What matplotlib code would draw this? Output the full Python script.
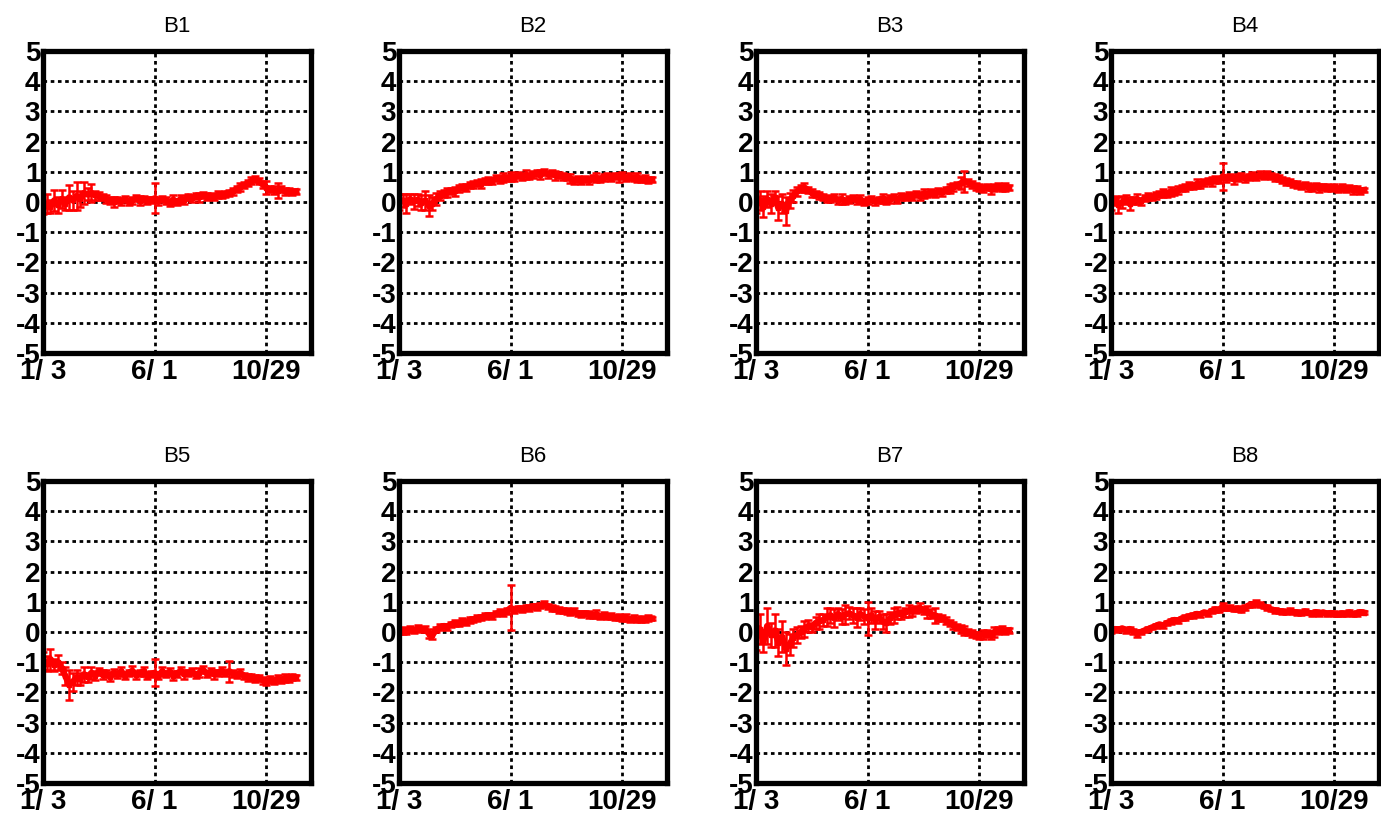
import matplotlib
matplotlib.use("Agg")
import matplotlib.pyplot as plt

plt.rcParams['font.family'] = ['Liberation Sans', 'DejaVu Sans']

# Sample days counted from 1/3 (every 5 days)
days = [0, 5, 10, 15, 20, 25, 30, 35, 40, 45,
        50, 55, 60, 65, 70, 75, 80, 85, 90, 95,
        100, 105, 110, 115, 120, 125, 130, 135, 140, 145,
        150, 155, 160, 165, 170, 175, 180, 185, 190, 195,
        200, 205, 210, 215, 220, 225, 230, 235, 240, 245,
        250, 255, 260, 265, 270, 275, 280, 285, 290, 295,
        300, 305, 310, 315, 320, 325, 330, 335, 340]

tick_days = [0, 150, 300]
tick_labels = ['1/ 3', '6/ 1', '10/29']
y_ticks = [-5, -4, -3, -2, -1, 0, 1, 2, 3, 4, 5]

titles = ['B1', 'B2', 'B3', 'B4', 'B5', 'B6', 'B7', 'B8']

b1 = [-0.25, -0.05, -0.15, 0.05, -0.10, 0.10, -0.05, 0.15, 0.05, 0.20,
      0.10, 0.30, 0.25, 0.30, 0.22, 0.20, 0.15, 0.10, 0.05, 0.00,
      0.08, 0.02, 0.10, 0.00, 0.05, 0.12, 0.04, 0.10, 0.05, 0.08,
      0.12, 0.03, 0.10, 0.05, -0.02, 0.08, 0.00, 0.10, 0.05, 0.18,
      0.12, 0.20, 0.15, 0.22, 0.18, 0.20, 0.15, 0.25, 0.22, 0.28,
      0.30, 0.35, 0.42, 0.50, 0.55, 0.62, 0.70, 0.75, 0.68, 0.58,
      0.48, 0.42, 0.40, 0.38, 0.42, 0.35, 0.38, 0.32, 0.35]
b1_err = [0.15, 0.30, 0.20, 0.35, 0.25, 0.30, 0.20, 0.40, 0.30, 0.45,
          0.25, 0.35, 0.20, 0.30, 0.15, 0.12, 0.10, 0.12, 0.10, 0.15,
          0.10, 0.12, 0.10, 0.10, 0.12, 0.10, 0.15, 0.10, 0.12, 0.10,
          0.50, 0.12, 0.10, 0.12, 0.10, 0.15, 0.10, 0.12, 0.10, 0.10,
          0.12, 0.10, 0.15, 0.10, 0.12, 0.10, 0.10, 0.12, 0.10, 0.10,
          0.10, 0.12, 0.10, 0.12, 0.10, 0.10, 0.12, 0.10, 0.10, 0.12,
          0.20, 0.10, 0.12, 0.25, 0.10, 0.12, 0.10, 0.10, 0.08]

b2 = [0.00, 0.05, -0.05, 0.10, 0.02, 0.08, -0.02, 0.05, -0.12, -0.05,
      0.10, 0.20, 0.28, 0.32, 0.38, 0.35, 0.45, 0.50, 0.48, 0.55,
      0.58, 0.62, 0.60, 0.68, 0.72, 0.70, 0.78, 0.75, 0.82, 0.78,
      0.85, 0.80, 0.88, 0.84, 0.90, 0.86, 0.92, 0.95, 0.90, 0.98,
      0.92, 0.95, 0.88, 0.90, 0.85, 0.82, 0.78, 0.72, 0.75, 0.70,
      0.75, 0.72, 0.78, 0.80, 0.76, 0.82, 0.85, 0.80, 0.86, 0.82,
      0.88, 0.80, 0.84, 0.78, 0.82, 0.75, 0.78, 0.72, 0.74]
b2_err = [0.25, 0.20, 0.30, 0.15, 0.25, 0.20, 0.25, 0.30, 0.35, 0.20,
          0.20, 0.15, 0.12, 0.15, 0.10, 0.15, 0.12, 0.10, 0.12, 0.10,
          0.12, 0.10, 0.15, 0.10, 0.12, 0.10, 0.10, 0.12, 0.15, 0.10,
          0.15, 0.12, 0.10, 0.12, 0.15, 0.10, 0.12, 0.10, 0.15, 0.10,
          0.12, 0.10, 0.15, 0.10, 0.12, 0.10, 0.15, 0.12, 0.10, 0.12,
          0.10, 0.12, 0.10, 0.15, 0.10, 0.12, 0.10, 0.12, 0.10, 0.15,
          0.12, 0.10, 0.12, 0.10, 0.15, 0.10, 0.12, 0.10, 0.08]

b3 = [-0.10, 0.05, -0.15, 0.10, -0.05, 0.15, -0.20, -0.05, -0.30, 0.05,
      0.20, 0.35, 0.45, 0.48, 0.40, 0.30, 0.25, 0.22, 0.18, 0.12,
      0.10, 0.15, 0.05, 0.10, 0.02, 0.08, 0.12, 0.05, 0.10, 0.00,
      0.05, 0.10, 0.02, 0.08, 0.12, 0.05, 0.10, 0.15, 0.08, 0.18,
      0.15, 0.22, 0.18, 0.25, 0.20, 0.28, 0.25, 0.32, 0.28, 0.35,
      0.32, 0.40, 0.45, 0.50, 0.55, 0.62, 0.68, 0.65, 0.58, 0.52,
      0.48, 0.45, 0.50, 0.42, 0.48, 0.52, 0.46, 0.50, 0.48]
b3_err = [0.25, 0.30, 0.35, 0.25, 0.30, 0.20, 0.40, 0.30, 0.45, 0.25,
          0.20, 0.15, 0.12, 0.15, 0.10, 0.12, 0.10, 0.12, 0.10, 0.12,
          0.10, 0.12, 0.10, 0.15, 0.10, 0.12, 0.10, 0.10, 0.12, 0.10,
          0.12, 0.10, 0.12, 0.10, 0.15, 0.10, 0.12, 0.10, 0.10, 0.12,
          0.10, 0.12, 0.10, 0.10, 0.12, 0.15, 0.10, 0.12, 0.10, 0.10,
          0.12, 0.10, 0.15, 0.12, 0.10, 0.20, 0.35, 0.12, 0.10, 0.12,
          0.10, 0.12, 0.10, 0.15, 0.10, 0.12, 0.10, 0.12, 0.08]

b4 = [-0.05, 0.05, -0.10, 0.00, 0.08, -0.05, 0.05, 0.10, 0.02, 0.12,
      0.18, 0.15, 0.22, 0.25, 0.30, 0.28, 0.35, 0.32, 0.40, 0.45,
      0.48, 0.55, 0.52, 0.60, 0.58, 0.65, 0.70, 0.68, 0.75, 0.72,
      0.85, 0.78, 0.82, 0.75, 0.80, 0.85, 0.78, 0.84, 0.88, 0.82,
      0.90, 0.85, 0.92, 0.86, 0.82, 0.78, 0.72, 0.68, 0.65, 0.60,
      0.58, 0.52, 0.55, 0.50, 0.48, 0.52, 0.46, 0.50, 0.48, 0.45,
      0.50, 0.44, 0.48, 0.42, 0.45, 0.40, 0.44, 0.38, 0.40]
b4_err = [0.20, 0.15, 0.25, 0.20, 0.15, 0.20, 0.12, 0.15, 0.12, 0.10,
          0.12, 0.10, 0.12, 0.10, 0.12, 0.10, 0.15, 0.10, 0.12, 0.10,
          0.10, 0.12, 0.10, 0.15, 0.10, 0.12, 0.10, 0.15, 0.12, 0.10,
          0.45, 0.12, 0.10, 0.15, 0.12, 0.10, 0.12, 0.10, 0.12, 0.10,
          0.12, 0.10, 0.12, 0.10, 0.12, 0.10, 0.10, 0.12, 0.10, 0.10,
          0.12, 0.10, 0.10, 0.12, 0.10, 0.10, 0.12, 0.10, 0.10, 0.10,
          0.10, 0.10, 0.12, 0.10, 0.10, 0.12, 0.10, 0.10, 0.08]

b5 = [-0.95, -1.05, -0.90, -1.10, -1.00, -1.20, -1.45, -1.75, -1.65, -1.50,
      -1.55, -1.40, -1.50, -1.35, -1.45, -1.30, -1.42, -1.38, -1.48, -1.35,
      -1.40, -1.30, -1.45, -1.35, -1.28, -1.42, -1.36, -1.30, -1.45, -1.38,
      -1.35, -1.45, -1.30, -1.40, -1.32, -1.45, -1.38, -1.28, -1.40, -1.35,
      -1.30, -1.42, -1.35, -1.25, -1.38, -1.32, -1.40, -1.35, -1.28, -1.36,
      -1.30, -1.38, -1.42, -1.35, -1.45, -1.50, -1.48, -1.55, -1.52, -1.60,
      -1.65, -1.58, -1.62, -1.55, -1.60, -1.52, -1.55, -1.48, -1.50]
b5_err = [0.30, 0.25, 0.35, 0.20, 0.25, 0.20, 0.30, 0.50, 0.30, 0.25,
          0.20, 0.25, 0.15, 0.20, 0.15, 0.12, 0.15, 0.12, 0.15, 0.12,
          0.12, 0.15, 0.12, 0.10, 0.15, 0.12, 0.10, 0.15, 0.12, 0.10,
          0.45, 0.12, 0.15, 0.10, 0.12, 0.15, 0.10, 0.12, 0.15, 0.10,
          0.12, 0.10, 0.15, 0.12, 0.10, 0.12, 0.15, 0.10, 0.12, 0.10,
          0.35, 0.12, 0.10, 0.12, 0.10, 0.12, 0.10, 0.12, 0.10, 0.12,
          0.10, 0.12, 0.10, 0.12, 0.10, 0.12, 0.10, 0.10, 0.08]

b6 = [0.00, 0.05, 0.02, 0.10, 0.05, 0.12, 0.08, 0.10, -0.05, -0.10,
      0.08, 0.15, 0.20, 0.18, 0.25, 0.30, 0.28, 0.35, 0.32, 0.40,
      0.42, 0.45, 0.48, 0.52, 0.55, 0.52, 0.60, 0.65, 0.62, 0.70,
      0.80, 0.72, 0.78, 0.75, 0.80, 0.78, 0.85, 0.82, 0.88, 0.92,
      0.85, 0.80, 0.78, 0.72, 0.70, 0.68, 0.65, 0.68, 0.62, 0.60,
      0.62, 0.58, 0.55, 0.60, 0.52, 0.55, 0.50, 0.52, 0.48, 0.50,
      0.45, 0.48, 0.42, 0.45, 0.40, 0.44, 0.42, 0.46, 0.45]
b6_err = [0.08, 0.10, 0.08, 0.10, 0.08, 0.10, 0.08, 0.10, 0.15, 0.12,
          0.08, 0.10, 0.08, 0.10, 0.08, 0.10, 0.08, 0.10, 0.08, 0.10,
          0.08, 0.10, 0.08, 0.10, 0.08, 0.10, 0.08, 0.10, 0.08, 0.10,
          0.75, 0.10, 0.08, 0.10, 0.08, 0.10, 0.08, 0.10, 0.08, 0.10,
          0.08, 0.10, 0.08, 0.10, 0.08, 0.10, 0.08, 0.10, 0.08, 0.10,
          0.08, 0.10, 0.08, 0.12, 0.08, 0.10, 0.08, 0.10, 0.08, 0.10,
          0.08, 0.10, 0.08, 0.10, 0.08, 0.10, 0.08, 0.10, 0.06]

b7 = [-0.20, 0.10, -0.30, 0.20, -0.10, 0.05, -0.35, -0.15, -0.55, -0.40,
      -0.20, -0.10, 0.00, 0.10, 0.20, 0.15, 0.30, 0.35, 0.40, 0.50,
      0.55, 0.45, 0.60, 0.50, 0.58, 0.62, 0.55, 0.48, 0.60, 0.52,
      0.45, 0.55, 0.40, 0.50, 0.35, 0.30, 0.45, 0.55, 0.62, 0.58,
      0.65, 0.70, 0.68, 0.75, 0.80, 0.72, 0.65, 0.60, 0.55, 0.48,
      0.45, 0.38, 0.30, 0.22, 0.15, 0.10, 0.05, 0.00, -0.05, -0.10,
      -0.12, -0.08, -0.05, -0.10, 0.00, 0.05, 0.08, 0.02, 0.05]
b7_err = [0.40, 0.50, 0.35, 0.60, 0.40, 0.55, 0.45, 0.50, 0.55, 0.35,
          0.30, 0.25, 0.20, 0.25, 0.20, 0.15, 0.20, 0.25, 0.20, 0.30,
          0.25, 0.30, 0.20, 0.25, 0.30, 0.20, 0.25, 0.30, 0.20, 0.25,
          0.55, 0.25, 0.30, 0.20, 0.25, 0.30, 0.20, 0.25, 0.20, 0.15,
          0.15, 0.20, 0.15, 0.12, 0.15, 0.12, 0.20, 0.15, 0.25, 0.12,
          0.10, 0.12, 0.10, 0.12, 0.10, 0.12, 0.15, 0.10, 0.12, 0.10,
          0.12, 0.15, 0.10, 0.12, 0.15, 0.10, 0.12, 0.10, 0.08]

b8 = [0.05, 0.10, 0.08, 0.12, 0.05, 0.10, 0.02, -0.05, 0.00, 0.05,
      0.10, 0.15, 0.20, 0.25, 0.22, 0.30, 0.35, 0.40, 0.38, 0.45,
      0.48, 0.52, 0.55, 0.60, 0.58, 0.65, 0.62, 0.70, 0.75, 0.72,
      0.85, 0.78, 0.80, 0.75, 0.78, 0.72, 0.80, 0.88, 0.92, 0.95,
      0.90, 0.85, 0.80, 0.75, 0.72, 0.70, 0.68, 0.65, 0.70, 0.66,
      0.65, 0.62, 0.68, 0.64, 0.60, 0.66, 0.62, 0.65, 0.60, 0.63,
      0.60, 0.58, 0.62, 0.60, 0.65, 0.58, 0.62, 0.66, 0.64]
b8_err = [0.08, 0.06, 0.08, 0.06, 0.08, 0.06, 0.08, 0.10, 0.08, 0.06,
          0.08, 0.06, 0.08, 0.06, 0.08, 0.06, 0.08, 0.06, 0.08, 0.06,
          0.08, 0.06, 0.08, 0.06, 0.08, 0.06, 0.08, 0.06, 0.08, 0.06,
          0.12, 0.06, 0.08, 0.06, 0.08, 0.06, 0.08, 0.06, 0.08, 0.10,
          0.08, 0.06, 0.08, 0.06, 0.08, 0.06, 0.08, 0.06, 0.08, 0.06,
          0.08, 0.06, 0.08, 0.06, 0.08, 0.06, 0.08, 0.06, 0.08, 0.06,
          0.08, 0.06, 0.08, 0.06, 0.08, 0.06, 0.08, 0.06, 0.05]

series = [b1, b2, b3, b4, b5, b6, b7, b8]
errors = [b1_err, b2_err, b3_err, b4_err, b5_err, b6_err, b7_err, b8_err]

W, H = 1381, 822
fig = plt.figure(figsize=(W / 100, H / 100), dpi=100)

col_left_px = [43, 399, 756, 1111]
row_top_px = [51, 481]
ax_w_px, ax_h_px = 268, 302

for i in range(8):
    r, c = divmod(i, 4)
    left = col_left_px[c] / W
    bottom = 1 - (row_top_px[r] + ax_h_px) / H
    ax = fig.add_axes([left, bottom, ax_w_px / W, ax_h_px / H])

    ax.errorbar(days, series[i], yerr=errors[i], color='#ff0000',
                lw=4.5, elinewidth=1.8, capsize=3, capthick=1.8,
                marker='s', markersize=3.5, zorder=3)

    ax.set_xlim(0, 360)
    ax.set_ylim(-5, 5)
    ax.set_xticks(tick_days)
    ax.set_xticklabels(tick_labels)
    ax.set_yticks(y_ticks)
    ax.set_yticklabels([str(v) for v in y_ticks])

    for lbl in ax.get_xticklabels() + ax.get_yticklabels():
        lbl.set_fontweight('bold')
        lbl.set_fontsize(20)
    ax.tick_params(axis='both', length=0)
    ax.tick_params(axis='y', pad=2)
    ax.tick_params(axis='x', pad=4)

    # dotted grid at interior ticks
    for yv in y_ticks[1:-1]:
        ax.axhline(yv, color='black', lw=2.0, ls=(0, (1.3, 1.3)), zorder=1)
    for xv in tick_days[1:]:
        ax.axvline(xv, color='black', lw=2.0, ls=(0, (1.3, 1.3)), zorder=1)

    for sp in ax.spines.values():
        sp.set_linewidth(3.8)
        sp.set_color('black')
        sp.set_zorder(5)

    ax.set_title(titles[i], fontsize=16, pad=14)

fig.savefig('out.png', dpi=100)
